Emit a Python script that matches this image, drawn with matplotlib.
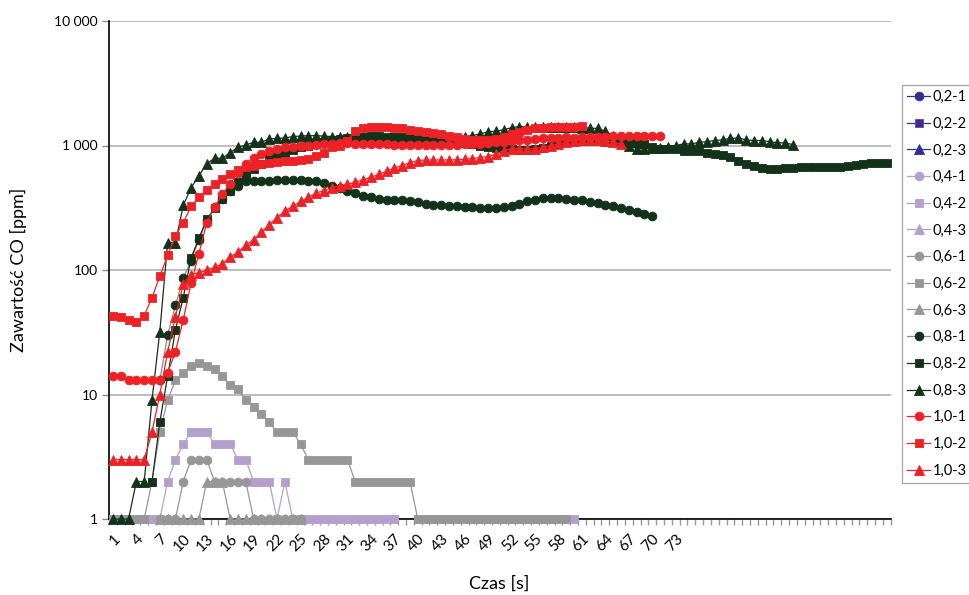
import numpy as np
import matplotlib
matplotlib.use("Agg")
import matplotlib.pyplot as plt
from matplotlib.ticker import FixedLocator, NullLocator, FuncFormatter
from matplotlib.transforms import ScaledTranslation

plt.rcParams['font.family'] = ['Lato', 'DejaVu Sans']

nan = np.nan

# values, index 1 = first category
s02_1 = []
s02_2 = []
s02_3 = []
s04_1 = []
s04_3 = []
s04_2 = [1, 1, 1, 1, 1, 1, 1, 2, 3, 4, 5, 5, 5, 4, 4, 4, 3, 3, 2, 2,
         2, 1, 2, 1, 1, 1, 1, 1, 1, 1, 1, 1, 1, 1, 1, 1, 1, nan, nan, 1,
         1, 1, 1, 1, 1, 1, 1, 1, 1, 1, 1, 1, 1, 1, 1, 1, 1, 1, 1, 1]
s06_1 = [nan, nan, nan, nan, nan, nan, 1, 1, 1, 2, 3, 3, 3, 2, 2, 2, 2, 2, 1, 1,
         1, 1, 1, 1, 1]
s06_2 = [1, 1, 1, 1, 1, 2, 5, 9, 13, 15, 17, 18, 17, 16, 14, 12, 11, 9, 8, 7,
         6, 5, 5, 5, 4, 3, 3, 3, 3, 3, 3, 2, 2, 2, 2, 2, 2, 2, 2, 1,
         1, 1, 1, 1, 1, 1, 1, 1, 1, 1, 1, 1, 1, 1, 1, 1, 1, 1, 1]
s06_3 = [nan, nan, nan, nan, nan, nan, 1, 1, 1, 1, 1, 1, 2, 2, 2, 1, 1, 1, 1, 1,
         1, 1, 1, 1, 1]
s08_1 = [nan, nan, nan, nan, nan, nan, 13, 30, 52, 86, 119, 175, 250, 320, 373, 430, 471, 514, 523, 523,
         523, 530, 533, 533, 533, 523, 514, 497, 477, 458, 435, 414, 396, 383, 375, 368, 366, 362, 355, 350,
         340, 335, 330, 327, 325, 323, 321, 317, 313, 315, 318, 325, 340, 355, 368, 380, 382, 380, 375, 366,
         362, 350, 346, 335, 325, 315, 305, 295, 282, 273]
s08_2 = [nan, nan, nan, nan, nan, 2, 6, 14, 33, 60, 125, 180, 255, 312, 370, 435, 510, 590, 650, 710,
         800, 845, 877, 920, 968, 1000, 1030, 1060, 1096, 1130, 1150, 1160, 1180, 1190, 1190, 1180, 1180, 1160, 1150, 1130,
         1110, 1100, 1080, 1070, 1060, 1050, 1030, 1000, 970, 950, 940, 930, 920, 920, 930, 950, 990, 1030, 1060, 1080,
         1090, 1090, 1080, 1070, 1060, 1060, 1060, 1050, 1030, 968, 944, 944, 930, 910, 910, 895, 877, 860, 845, 805,
         757, 716, 680, 660, 650, 650, 660, 660, 667, 667, 667, 667, 667, 673, 690, 700, 716, 730, 730, 730]
s08_3 = [1, 1, 1, 2, 2, 9, 32, 166, 166, 330, 458, 570, 715, 790, 790, 877, 968, 1010, 1060, 1060,
         1130, 1140, 1150, 1180, 1190, 1200, 1200, 1190, 1180, 1180, 1170, 1160, 1160, 1160, 1150, 1140, 1130, 1120, 1110, 1100,
         1090, 1090, 1100, 1120, 1150, 1170, 1200, 1240, 1290, 1300, 1340, 1390, 1420, 1420, 1410, 1400, 1400, 1400, 1400, 1400,
         1390, 1380, 1370, 1300, 1200, 1100, 1000, 944, 944, 950, 960, 980, 1000, 1030, 1030, 1060, 1075, 1096, 1110, 1140,
         1150, 1110, 1096, 1096, 1075, 1050, 1050, 1015]
s10_1 = [14, 14, 13, 13, 13, 13, 13, 15, 22, 40, 78, 135, 240, 320, 405, 495, 600, 715, 800, 855,
         895, 940, 965, 970, 985, 990, 1010, 1030, 1030, 1040, 1040, 1035, 1030, 1025, 1020, 1020, 1015, 1015, 1010, 1010,
         1010, 1010, 1010, 1010, 1015, 1020, 1025, 1030, 1040, 1060, 1060, 1080, 1100, 1110, 1130, 1140, 1150, 1150, 1160, 1150,
         1160, 1170, 1180, 1180, 1200, 1200, 1200, 1190, 1190, 1190, 1190]
s10_2 = [43, 42, 40, 38, 43, 60, 89, 131, 188, 240, 325, 383, 440, 495, 540, 590, 630, 668, 690, 715,
         725, 740, 745, 750, 770, 785, 830, 877, 970, 1000, 1096, 1300, 1370, 1400, 1400, 1400, 1380, 1370, 1330, 1310,
         1290, 1270, 1240, 1200, 1165, 1130, 1110, 1100, 1100, 1130, 1165, 1240, 1290, 1340, 1370, 1380, 1400, 1400, 1400, 1420,
         1440]
s10_3 = [3, 3, 3, 3, 3, 5, 10, 22, 42, 77, 92, 95, 100, 105, 112, 127, 139, 158, 175, 201,
         231, 263, 298, 325, 355, 383, 414, 435, 458, 477, 487, 506, 530, 555, 585, 620, 660, 690, 730, 757,
         765, 765, 765, 765, 768, 775, 785, 800, 815, 855, 910, 944, 944, 944, 944, 968, 1000, 1030, 1060, 1096,
         1110, 1110, 1110, 1096, 1060, 1030]

n_cat = 100
tick_pos = list(range(1, 74, 3))
tick_lab = [str(t) for t in tick_pos]

navy = '#2E3192'
lilac = '#B3A0CC'
grey = '#979797'
dgreen = '#133219'
red = '#ED2227'

# name, data, marker, line colour, face colour, edge colour
series = [
    ("0,2-1", s02_1, "o", navy, navy, navy),
    ("0,2-2", s02_2, "s", navy, navy, '#A0307A'),
    ("0,2-3", s02_3, "^", navy, navy, navy),
    ("0,4-1", s04_1, "o", lilac, lilac, lilac),
    ("0,4-2", s04_2, "s", lilac, lilac, lilac),
    ("0,4-3", s04_3, "^", lilac, lilac, lilac),
    ("0,6-1", s06_1, "o", grey, grey, grey),
    ("0,6-2", s06_2, "s", grey, grey, grey),
    ("0,6-3", s06_3, "^", grey, grey, grey),
    ("0,8-1", s08_1, "o", '#8C8C8C', dgreen, dgreen),
    ("0,8-2", s08_2, "s", dgreen, dgreen, dgreen),
    ("0,8-3", s08_3, "^", dgreen, dgreen, dgreen),
    ("1,0-1", s10_1, "o", red, red, red),
    ("1,0-2", s10_2, "s", red, red, red),
    ("1,0-3", s10_3, "^", red, red, red),
]

fig = plt.figure(figsize=(9.69, 5.95), dpi=100)
ax = fig.add_axes([109 / 969, 1 - 519 / 595, 781.7 / 969, 498 / 595])

for name, vals, mk, lc, fc, ec in series:
    x = np.arange(1, len(vals) + 1)
    ms = 6.9 if mk == "^" else 6.3
    ax.plot(x, vals, marker=mk, color=lc, mfc=fc, mec=ec, ms=ms, mew=0.6,
            lw=0.9, label=name, clip_on=False, zorder=3)

ax.set_yscale('log')
ax.set_ylim(1, 10000)
ax.set_xlim(0.5, n_cat + 0.5)

ax.yaxis.set_major_locator(FixedLocator([1, 10, 100, 1000, 10000]))
ax.yaxis.set_minor_locator(NullLocator())
ax.yaxis.set_major_formatter(FuncFormatter(lambda v, p: f"{int(v):,}".replace(",", " ")))
ax.tick_params(axis='y', length=5, width=1, color='#8C8C8C', labelsize=10, pad=3)
ax.grid(axis='y', color='#ABABAB', lw=1.1)
ax.set_axisbelow(True)

ax.set_xticks(tick_pos)
ax.set_xticklabels(tick_lab, rotation=45, ha='right', va='center', rotation_mode='anchor')
ax.set_xticks(np.arange(0.5, n_cat + 1, 1), minor=True)
ax.tick_params(axis='x', which='major', length=0, labelsize=11, pad=13)
ax.tick_params(axis='x', which='minor', length=4, width=1, color='#9A9A9A')
shift = ScaledTranslation(0.05, 0, fig.dpi_scale_trans)
for lab in ax.get_xticklabels():
    lab.set_transform(lab.get_transform() + shift)

for side in ['top', 'right']:
    ax.spines[side].set_visible(False)
ax.spines['left'].set_linewidth(1.2)
ax.spines['bottom'].set_linewidth(1.2)

fig.text(18 / 969, 1 - 270 / 595, "Zawartość CO [ppm]", rotation=90,
         ha='center', va='center', fontsize=13)
fig.text(499 / 969, 1 - 584 / 595, "Czas [s]", ha='center', va='center', fontsize=13)

leg = ax.legend(loc='upper left', bbox_to_anchor=(902 / 969, 1 - 85 / 595),
                bbox_transform=fig.transFigure, borderaxespad=0, fontsize=10.5,
                handlelength=1.6, handletextpad=0.15, labelspacing=0.87,
                borderpad=0.35, fancybox=False, framealpha=1)
leg.get_frame().set_edgecolor('#A6A6A6')
leg.get_frame().set_linewidth(0.9)

fig.savefig("out.png", dpi=100)
